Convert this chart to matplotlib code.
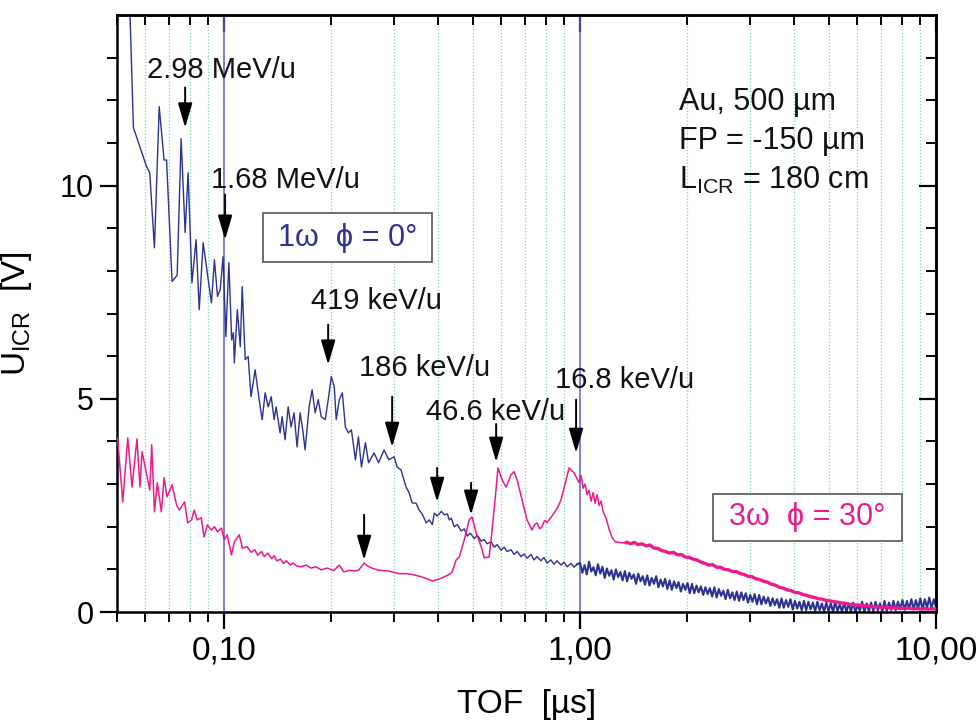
import numpy as np
import matplotlib
matplotlib.use('Agg')
import matplotlib.pyplot as plt
from matplotlib.ticker import FixedLocator, FixedFormatter, NullFormatter
from matplotlib.patches import Rectangle

plt.rcParams['font.family'] = ['Liberation Sans', 'DejaVu Sans']
plt.rcParams['mathtext.default'] = 'regular'

# ---------------- data ----------------
# 1w, phi = 0 deg (blue)  -- structured part
blue_x = [0.0535, 0.0556, 0.0605, 0.0618, 0.0637, 0.0657, 0.0678, 0.0689, 0.0714, 0.0738,
          0.0757, 0.0777, 0.0792, 0.0812, 0.0834, 0.0851, 0.0873, 0.0921, 0.0939, 0.0958,
          0.0975, 0.0993, 0.1011, 0.1031, 0.1050, 0.1062, 0.1068, 0.1089, 0.1110, 0.1124,
          0.1146, 0.1168, 0.1190, 0.1222, 0.1254, 0.1279, 0.1304, 0.1330, 0.1356, 0.1382,
          0.1400, 0.1436, 0.1455, 0.1483, 0.1513, 0.1542, 0.1572, 0.1603, 0.1635, 0.1667,
          0.1688, 0.1733, 0.1767, 0.1802, 0.1838, 0.1874, 0.1923, 0.1961, 0.2000, 0.2039,
          0.2065, 0.2106, 0.2148, 0.2191, 0.2234, 0.2278, 0.2338, 0.2384, 0.2431, 0.2495,
          0.2545, 0.2638, 0.2716, 0.2814, 0.2901, 0.3003, 0.3062, 0.3141, 0.3244, 0.3308,
          0.3373, 0.3462, 0.3531, 0.3601, 0.3696, 0.3770, 0.3845, 0.3896, 0.3973, 0.4078,
          0.4159, 0.4238, 0.4290, 0.4346, 0.4430, 0.4519, 0.4636, 0.4727, 0.4821, 0.4915,
          0.5043, 0.5143, 0.5275, 0.5378, 0.5484, 0.5625, 0.5736, 0.5848, 0.6000, 0.6117,
          0.6237, 0.6400, 0.6525, 0.6653, 0.6827, 0.6960, 0.7096, 0.7282, 0.7424, 0.7568,
          0.7766, 0.7918, 0.8073, 0.8284, 0.8453, 0.8618, 0.8843, 0.9016, 0.9194, 0.9435,
          0.9619, 0.9808]
blue_y = [16.0, 11.36, 10.45, 10.3, 8.54, 11.85, 10.6, 10.6, 7.75, 7.9,
          11.1, 8.9, 10.3, 7.72, 8.73, 7.09, 8.66, 7.25, 8.26, 7.4,
          7.56, 8.33, 6.46, 8.19, 6.38, 6.55, 5.84, 7.09, 6.22, 7.63,
          5.92, 5.99, 5.05, 5.68, 4.98, 4.51, 5.14, 4.81, 5.05, 4.51,
          4.81, 4.2, 4.58, 4.04, 4.81, 4.34, 4.67, 3.87, 4.67, 4.2,
          3.8, 4.81, 5.21, 4.67, 4.98, 4.58, 4.51, 4.98, 5.52, 5.28,
          4.51, 4.98, 5.14, 4.34, 4.2, 4.27, 3.57, 4.11, 3.4, 3.97,
          3.5, 3.73, 3.5, 3.8, 3.57, 3.64, 3.4, 3.33, 2.93, 2.8,
          2.56, 2.55, 2.39, 2.3, 2.09, 2.16, 2.05, 2.32, 2.25, 2.36,
          2.28, 2.3, 2.16, 2.2, 2.0, 2.05, 1.9, 1.95, 1.78, 1.85,
          1.72, 1.8, 1.66, 1.7, 1.6, 1.65, 1.52, 1.58, 1.45, 1.52,
          1.42, 1.46, 1.35, 1.42, 1.3, 1.36, 1.26, 1.35, 1.22, 1.3,
          1.2, 1.28, 1.15, 1.22, 1.12, 1.2, 1.1, 1.17, 1.06, 1.14,
          1.05, 1.12]
# blue noisy tail, sampled on a log-uniform time grid from 1 to 10 us
blue_tail_range = (1.0, 10.0)
blue_tail_y = [1.15, 0.92, 1.10, 0.88, 1.18, 0.95, 1.05, 0.86, 1.12, 0.90,
               1.06, 0.80, 1.02, 0.85, 0.98, 0.76, 1.00, 0.82, 0.94, 0.74,
               0.96, 0.72, 0.92, 0.78, 0.88, 0.66, 0.90, 0.72, 0.84, 0.64,
               0.86, 0.62, 0.80, 0.66, 0.84, 0.58, 0.76, 0.60, 0.78, 0.54,
               0.74, 0.52, 0.72, 0.56, 0.70, 0.48, 0.66, 0.52, 0.68, 0.44,
               0.66, 0.44, 0.62, 0.46, 0.60, 0.40, 0.58, 0.42, 0.56, 0.36,
               0.58, 0.34, 0.54, 0.38, 0.50, 0.30, 0.52, 0.32, 0.46, 0.28,
               0.48, 0.26, 0.46, 0.28, 0.44, 0.22, 0.40, 0.24, 0.42, 0.18,
               0.40, 0.18, 0.36, 0.20, 0.34, 0.14, 0.32, 0.16, 0.30, 0.10,
               0.32, 0.10, 0.28, 0.12, 0.30, 0.06, 0.26, 0.08, 0.24, 0.04,
               0.26, 0.04, 0.24, 0.06, 0.22, 0.02, 0.24, 0.04, 0.20, 0.01,
               0.22, 0.02, 0.20, 0.00, 0.24, 0.02, 0.18, 0.01, 0.22, 0.00,
               0.20, 0.01, 0.22, 0.00, 0.18, 0.03, 0.24, 0.00, 0.20, 0.02,
               0.22, 0.02, 0.24, 0.04, 0.20, 0.01, 0.26, 0.03, 0.22, 0.05,
               0.26, 0.04, 0.24, 0.06, 0.28, 0.05, 0.26, 0.07, 0.30, 0.06,
               0.28, 0.08, 0.32, 0.06, 0.30, 0.10, 0.34, 0.08, 0.30, 0.12]

# 3w, phi = 30 deg (magenta) -- structured part
mag_x = [0.0502, 0.0519, 0.0536, 0.0551, 0.0569, 0.0580, 0.0588, 0.0618, 0.0626, 0.0637,
         0.0649, 0.0666, 0.0678, 0.0691, 0.0714, 0.0735, 0.0749, 0.0774, 0.0790, 0.0810,
         0.0824, 0.0840, 0.0862, 0.0878, 0.0897, 0.0921, 0.0939, 0.0958, 0.0983, 0.1000,
         0.1020, 0.1048, 0.1068, 0.1103, 0.1125, 0.1161, 0.1190, 0.1219, 0.1243, 0.1273,
         0.1297, 0.1326, 0.1360, 0.1382, 0.1406, 0.1440, 0.1468, 0.1495, 0.1536, 0.1560,
         0.1600, 0.1642, 0.1700, 0.1755, 0.1810, 0.1874, 0.1948, 0.2033, 0.2106, 0.2167,
         0.2250, 0.2318, 0.2388, 0.2475, 0.2527, 0.2600, 0.2716, 0.2901, 0.3098, 0.3244,
         0.3417, 0.3601, 0.3845, 0.3945, 0.4093, 0.4290, 0.4371, 0.4485, 0.4576, 0.4727,
         0.4880, 0.4970, 0.5105, 0.5275, 0.5378, 0.5554, 0.5659, 0.5804, 0.5879, 0.6039,
         0.6196, 0.6400, 0.6525, 0.6653, 0.6872, 0.7096, 0.7330, 0.7450, 0.7568, 0.7700,
         0.7816, 0.7950, 0.8073, 0.8250, 0.8453, 0.8650, 0.8843, 0.9134, 0.9314, 0.9619,
         0.9935, 1.0065, 1.0196, 1.033, 1.046, 1.060, 1.074, 1.088, 1.102, 1.116,
         1.131, 1.146, 1.161, 1.183, 1.206, 1.230, 1.254, 1.287, 1.321, 1.346]
mag_y = [4.08, 2.58, 4.08, 2.93, 4.06, 2.93, 3.76, 2.86, 3.92, 2.35,
         3.03, 2.35, 3.15, 2.7, 2.98, 2.51, 2.39, 2.58, 2.09, 2.16,
         2.39, 2.16, 2.21, 1.76, 2.04, 1.92, 2.0, 1.88, 1.97, 1.69,
         1.81, 1.34, 1.64, 1.81, 1.5, 1.53, 1.40, 1.46, 1.33, 1.42,
         1.30, 1.38, 1.25, 1.32, 1.20, 1.24, 1.14, 1.20, 1.10, 1.15,
         1.08, 1.06, 1.10, 1.03, 1.06, 0.99, 1.03, 0.97, 1.10, 0.94,
         0.98, 0.96, 0.98, 1.15, 1.08, 1.03, 0.98, 0.96, 0.90, 0.90,
         0.87, 0.82, 0.73, 0.75, 0.80, 0.88, 0.94, 1.22, 1.29, 1.69,
         2.16, 2.23, 1.85, 1.53, 1.27, 1.29, 1.92, 2.86, 3.38, 3.10,
         2.93, 3.22, 3.29, 3.10, 2.63, 2.16, 1.92, 2.05, 2.09, 1.95,
         2.00, 2.15, 2.10, 2.20, 2.32, 2.45, 2.63, 3.10, 3.38, 3.26,
         3.03, 3.20, 2.90, 3.00, 2.75, 2.85, 2.60, 2.80, 2.55, 2.75,
         2.50, 2.60, 2.35, 2.20, 1.95, 1.75, 1.65, 1.63, 1.62, 1.63]
# magenta tail, sampled on a log-uniform time grid from 1.35 to 10 us
mag_tail_range = (1.35, 10.0)
mag_tail_y = [1.64, 1.60, 1.63, 1.58, 1.60, 1.55, 1.57, 1.50, 1.49, 1.44,
              1.42, 1.38, 1.40, 1.34, 1.35, 1.29, 1.28, 1.24, 1.22, 1.17,
              1.14, 1.10, 1.11, 1.05, 1.05, 1.00, 0.99, 0.95, 0.95, 0.90,
              0.88, 0.84, 0.83, 0.78, 0.76, 0.72, 0.70, 0.65, 0.63, 0.58,
              0.56, 0.52, 0.50, 0.46, 0.45, 0.41, 0.39, 0.36, 0.34, 0.31,
              0.30, 0.27, 0.26, 0.24, 0.23, 0.21, 0.20, 0.18, 0.17, 0.16,
              0.15, 0.14, 0.14, 0.12, 0.12, 0.11, 0.11, 0.10, 0.10, 0.09,
              0.09, 0.08, 0.09, 0.08, 0.08, 0.07, 0.08, 0.07, 0.07, 0.08]

# labelled arrows: text, arrow x, arrow tip y, arrow start y, text x, text y
arrow_labels = ["2.98 MeV/u", "1.68 MeV/u", "419 keV/u", "186 keV/u", "46.6 keV/u", "16.8 keV/u"]
arrow_x = [0.0777, 0.1006, 0.196, 0.2965, 0.581, 0.9745]
arrow_tip = [11.36, 8.73, 5.80, 3.87, 3.52, 3.73]
arrow_start = [12.30, 9.79, 6.74, 5.05, 4.41, 4.98]
label_x = [0.0608, 0.0919, 0.1755, 0.2394, 0.3693, 0.851]
label_y = [12.72, 10.14, 7.30, 5.73, 4.69, 5.45]
# unlabelled arrows
plain_arrow_x = [0.2473, 0.3966, 0.494]
plain_arrow_tip = [1.22, 2.58, 2.28]
plain_arrow_start = [2.28, 3.38, 3.03]

info_lines = ["Au, 500 \u00b5m", "FP = -150 \u00b5m", "L$_{ICR}$ = 180 cm"]
info_x = 1.897
info_y = [11.97, 11.05, 10.12]

x_major = [0.1, 1.0, 10.0]
x_major_labels = ["0,10", "1,00", "10,00"]
x_minor = [0.05, 0.06, 0.07, 0.08, 0.09, 0.2, 0.3, 0.4, 0.5, 0.6, 0.7, 0.8, 0.9,
           2, 3, 4, 5, 6, 7, 8, 9]
y_major = [0, 5, 10]
y_minor = [1, 2, 3, 4, 6, 7, 8, 9, 11, 12, 13]

# ---------------- style ----------------
BLUE = '#2d3190'
MAGENTA = '#ec1a8c'
DECADE = '#5c5cd0'
GRIDC = '#7fd3ae'

fig = plt.figure(figsize=(9.79, 7.21), dpi=100)
ax = fig.add_axes([117/979, 1 - 612/721, 819/979, 597/721])
ax.set_xscale('log')
ax.set_xlim(0.05, 10.0)
ax.set_ylim(0, 14)

# grid lines
for xv in x_minor[1:]:
    ax.axvline(xv, color=GRIDC, lw=0.9, ls=(0, (1, 1.6)), zorder=0)
for xv in x_major[:-1]:
    ax.axvline(xv, color=DECADE, lw=1.1, zorder=0.5)

# series
bt = np.geomspace(blue_tail_range[0], blue_tail_range[1], len(blue_tail_y))
ax.plot(blue_x, blue_y, color=BLUE, lw=1.0, zorder=2)
ax.plot([blue_x[-1]] + list(bt), [blue_y[-1]] + list(blue_tail_y), color=BLUE, lw=1.5, zorder=2)
mt = np.geomspace(mag_tail_range[0], mag_tail_range[1], len(mag_tail_y))
ax.plot(mag_x, mag_y, color=MAGENTA, lw=1.1, zorder=3)
ax.plot([mag_x[-1]] + list(mt), [mag_y[-1]] + list(mag_tail_y), color=MAGENTA, lw=2.4, zorder=3)

# arrows
aprops = dict(arrowstyle='-|>,head_length=0.75,head_width=0.22', color='black', lw=1.4,
              shrinkA=0, shrinkB=0, mutation_scale=20)
for t, xa, yt, ys, tx, ty in zip(arrow_labels, arrow_x, arrow_tip, arrow_start, label_x, label_y):
    ax.annotate('', xy=(xa, yt), xytext=(xa, ys), arrowprops=aprops, zorder=5)
    ax.text(tx, ty, t, fontsize=21, ha='left', va='center', color='#111111', zorder=6)
for xa, yt, ys in zip(plain_arrow_x, plain_arrow_tip, plain_arrow_start):
    ax.annotate('', xy=(xa, yt), xytext=(xa, ys), arrowprops=aprops, zorder=5)

for line, yy in zip(info_lines, info_y):
    ax.text(info_x, yy, line, fontsize=22, ha='left', va='center', color='#111111')

# legend boxes
ax.add_patch(Rectangle((0.1783, 0.5863), 0.2063, 0.0820, transform=ax.transAxes,
                       fill=True, facecolor='white', edgecolor='#555555', lw=1.2, zorder=7))
ax.text(0.2814, 0.6273, "1\u03c9  \u03d5 = 0\u00b0", transform=ax.transAxes, fontsize=22,
        color=BLUE, ha='center', va='center', zorder=8)
ax.add_patch(Rectangle((0.7277, 0.1189), 0.2308, 0.0788, transform=ax.transAxes,
                       fill=True, facecolor='white', edgecolor='#555555', lw=1.2, zorder=7))
ax.text(0.8431, 0.1583, "3\u03c9  \u03d5 = 30\u00b0", transform=ax.transAxes, fontsize=22,
        color=MAGENTA, ha='center', va='center', zorder=8)

# axes ticks
ax.xaxis.set_major_locator(FixedLocator(x_major))
ax.xaxis.set_major_formatter(FixedFormatter(x_major_labels))
ax.xaxis.set_minor_locator(FixedLocator(x_minor))
ax.xaxis.set_minor_formatter(NullFormatter())
ax.yaxis.set_major_locator(FixedLocator(y_major))
ax.yaxis.set_minor_locator(FixedLocator(y_minor))
ax.tick_params(which='major', direction='out', length=12, width=1.6, pad=5)
ax.tick_params(axis='x', which='major', labelsize=24)
ax.tick_params(axis='y', which='major', labelsize=22)
ax.tick_params(which='minor', direction='out', length=7, width=1.4)

top = ax.secondary_xaxis('top')
top.xaxis.set_major_locator(FixedLocator(x_major))
top.xaxis.set_minor_locator(FixedLocator(x_minor))
top.tick_params(which='major', direction='in', length=12, width=1.6, labeltop=False)
top.tick_params(which='minor', direction='in', length=7, width=1.4)
top.xaxis.set_minor_formatter(NullFormatter())
right = ax.secondary_yaxis('right')
right.yaxis.set_major_locator(FixedLocator(y_major))
right.yaxis.set_minor_locator(FixedLocator(y_minor))
right.tick_params(which='major', direction='in', length=12, width=1.6, labelright=False)
right.tick_params(which='minor', direction='in', length=7, width=1.4)
for sec in (top, right):
    for s in sec.spines.values():
        s.set_linewidth(1.8)

for s in ax.spines.values():
    s.set_linewidth(1.8)

ax.set_xlabel("TOF  [\u00b5s]", fontsize=24, labelpad=16)
ax.set_ylabel("U$_{ICR}$  [V]", fontsize=24, labelpad=18)

fig.savefig('out.png', dpi=100)
